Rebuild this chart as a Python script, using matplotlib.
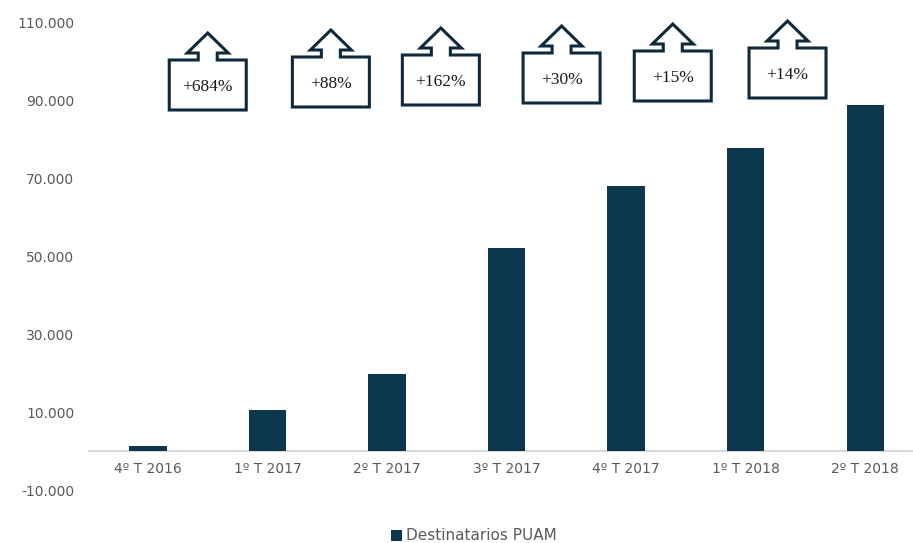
import matplotlib
matplotlib.use("Agg")
import matplotlib.pyplot as plt
from matplotlib.patches import Polygon
from matplotlib.ticker import FuncFormatter

# data
quarters = ["4º T 2016", "1º T 2017", "2º T 2017", "3º T 2017", "4º T 2017", "1º T 2018", "2º T 2018"]
recipients = [1340, 10500, 19800, 52000, 68000, 77800, 88700]
growth_labels = ["+684%", "+88%", "+162%", "+30%", "+15%", "+14%"]
series_name = "Destinatarios PUAM"

bar_color = "#0c374f"
text_color = "#595959"

plt.rcParams["font.family"] = ["DejaVu Sans"]

fig = plt.figure(figsize=(9.13, 5.43), dpi=100)
ax = fig.add_axes([88.2 / 913, 53 / 543, 836.8 / 913, 468 / 543])

x = list(range(len(quarters)))
ax.bar(x, recipients, width=0.312, color=bar_color, label=series_name, zorder=2)

ax.set_xlim(-0.5, len(quarters) - 0.5)
ax.set_ylim(-10000, 110000)
ax.set_yticks(range(-10000, 110001, 20000))
ax.yaxis.set_major_formatter(FuncFormatter(lambda v, p: f"{int(v):,}".replace(",", ".")))
ax.set_xticks(x)
ax.set_xticklabels(quarters)

for s in ax.spines.values():
    s.set_visible(False)
# category labels hang off the zero line
ax.spines["bottom"].set_position(("data", 0))
ax.axhline(0, color="#d9d9d9", lw=1.5, zorder=1)
ax.tick_params(axis="both", length=0, labelsize=10, labelcolor=text_color)
ax.tick_params(axis="y", pad=10)
ax.tick_params(axis="x", pad=8)

# up-arrow callouts between bars (sizes in pixels converted to data units)
px_x = 1 / 119.55
px_y = 120000 / 468
zero_px = 451
box_cx = [0.50, 1.53, 2.45, 3.46, 4.39, 5.35]
box_bottom_px = [110, 107, 105, 103, 101, 98]
bw, bh, sw, sh, hw, hh = 77, 50, 19, 7, 41, 20
for cx, bot, lab in zip(box_cx, box_bottom_px, growth_labels):
    y0 = (zero_px - bot) * px_y
    def P(dx, dy):
        return (cx + dx * px_x, y0 + dy * px_y)
    verts = [P(-bw / 2, 0), P(bw / 2, 0), P(bw / 2, bh), P(sw / 2, bh), P(sw / 2, bh + sh),
             P(hw / 2, bh + sh), P(0, bh + sh + hh), P(-hw / 2, bh + sh), P(-sw / 2, bh + sh),
             P(-sw / 2, bh), P(-bw / 2, bh)]
    poly = Polygon(verts, closed=True, facecolor="white", edgecolor="#0d2a3d", lw=2.2,
                   zorder=3, clip_on=False, joinstyle="miter")
    ax.add_patch(poly)
    ax.text(cx, y0 + 23 * px_y, lab, ha="center", va="center", fontsize=12.5,
            family="Liberation Serif", color="#1a1a1a", zorder=4)

leg = fig.legend(loc="center", bbox_to_anchor=(474 / 913, 1 - 536 / 543), frameon=False,
                 fontsize=11, handlelength=0.7, handleheight=0.7, handletextpad=0.25)
for t in leg.get_texts():
    t.set_color(text_color)

fig.savefig("out.png", dpi=100)
